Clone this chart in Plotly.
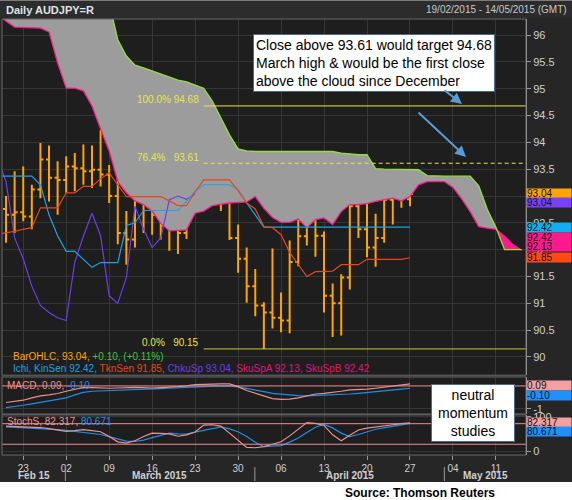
"""AUDJPY daily Ichimoku chart with MACD and stochastic panels (Thomson Reuters style)."""

import numpy as np
import plotly.graph_objects as go

# ---- data -------------------------------------------------------------------
# daily bars, 19 Feb 2015 .. 27 Apr 2015 (index 0 .. 47)
bar_open = [92.76, 92.65, 92.70, 92.62, 93.12, 93.68, 93.34, 93.30, 93.55, 93.52, 93.46, 93.49,
            93.40, 93.00, 92.31, 92.19, 93.46, 92.95, 92.65, 92.45, 93.30, 92.31, 93.28, 94.36,
            94.30, 93.71, 93.27, 92.22, 91.83, 91.32, 90.96, 90.83, 90.73, 90.68, 91.77, 92.25,
            92.68, 92.26, 91.14, 91.00, 91.48, 92.81, 92.38, 92.04, 92.22, 92.93, 93.00, 92.94]
bar_high = [93.00, 93.46, 93.55, 93.21, 93.99, 93.94, 93.65, 93.74, 93.80, 93.96, 93.94, 94.23,
            93.58, 93.40, 92.72, 93.58, 93.62, 93.04, 93.00, 93.88, 93.45, 93.40, 94.59, 94.68,
            94.30, 93.83, 93.37, 92.47, 92.04, 91.64, 91.02, 92.02, 91.20, 92.17, 92.59, 92.87,
            93.06, 92.34, 91.37, 91.54, 93.03, 93.05, 93.24, 92.67, 93.21, 93.18, 93.29, 93.18]
bar_low = [92.13, 92.31, 92.53, 92.38, 92.96, 92.90, 92.65, 93.06, 93.09, 93.21, 93.15, 93.18,
           92.87, 92.10, 91.72, 92.04, 92.31, 92.28, 92.19, 91.98, 91.92, 92.20, 93.10, 93.80,
           93.52, 92.72, 92.18, 91.57, 91.01, 90.76, 90.15, 90.53, 90.46, 90.44, 91.69, 92.08,
           91.87, 90.83, 90.37, 90.40, 91.26, 92.22, 91.86, 91.68, 92.13, 92.47, 92.78, 92.81]
bar_close = [92.65, 92.70, 92.62, 93.12, 93.68, 93.34, 93.30, 93.55, 93.52, 93.46, 93.49, 93.40,
             93.00, 92.31, 92.19, 93.46, 92.95, 92.65, 92.45, 93.30, 92.31, 93.28, 94.36, 94.30,
             93.71, 93.27, 92.22, 91.83, 91.32, 90.96, 90.83, 90.73, 90.68, 91.77, 92.25, 92.68,
             92.26, 91.14, 91.00, 91.48, 92.81, 92.38, 92.04, 92.22, 92.93, 93.00, 92.94, 93.04]

# Ichimoku lines, index -1 .. 47
tenkan = [92.29, 92.31, 92.34, 92.38, 92.41, 92.78, 92.78, 92.78, 93.06, 93.06, 93.18, 93.18,
          93.32, 93.43, 93.21, 92.99, 92.99, 92.99, 92.99, 92.99, 92.91, 92.82, 92.82, 93.08,
          93.30, 93.30, 93.30, 93.30, 93.10, 92.87, 92.76, 92.43, 92.41, 92.28, 91.95, 91.72,
          91.50, 91.59, 91.60, 91.60, 91.72, 91.72, 91.72, 91.82, 91.82, 91.82, 91.82, 91.82, 91.85]
kijun = [93.37, 93.37, 93.37, 93.37, 93.37, 93.21, 92.65, 92.26, 91.97, 91.97, 91.82, 91.67,
         91.76, 91.76, 91.76, 92.45, 92.50, 92.73, 92.73, 92.73, 92.73, 92.73, 92.90, 93.09,
         93.21, 93.21, 93.21, 93.21, 93.12, 92.87, 92.65, 92.42, 92.42, 92.42, 92.42, 92.42,
         92.42, 92.42, 92.42, 92.42, 92.42, 92.42, 92.42, 92.42, 92.42, 92.42, 92.42, 92.42, 92.42]
# cloud (senkou spans, already shifted forward), index -1 .. 60
span_a = [96.40, 96.26, 96.15, 96.14, 96.13, 96.13, 96.06, 95.48, 95.01, 95.01, 94.96, 94.68,
          94.25, 93.84, 93.27, 93.06, 92.91, 92.84, 92.72, 92.49, 92.35, 92.36, 92.37, 92.68,
          92.72, 92.82, 92.85, 92.87, 92.88, 92.89, 92.99, 92.77, 92.60, 92.51, 92.51, 92.57,
          92.41, 92.56, 92.59, 92.47, 92.71, 92.84, 92.84, 92.86, 92.90, 92.93, 92.96, 92.91,
          92.99, 93.21, 93.27, 93.27, 93.27, 93.16, 92.95, 92.71, 92.43, 92.40, 92.38, 92.25,
          92.09, 91.99]
span_b = [96.90, 96.90, 96.90, 96.90, 96.90, 96.90, 96.90, 96.90, 96.90, 96.90, 96.90, 96.90,
          96.90, 96.61, 95.91, 95.61, 95.44, 95.39, 95.33, 95.28, 95.22, 95.16, 95.13, 95.07,
          95.01, 94.77, 94.44, 94.14, 93.88, 93.84, 93.83, 93.83, 93.83, 93.83, 93.83, 93.83,
          93.83, 93.83, 93.83, 93.83, 93.80, 93.78, 93.77, 93.77, 93.51, 93.50, 93.50, 93.50,
          93.50, 93.49, 93.38, 93.37, 93.37, 93.37, 93.37, 93.37, 93.19, 92.75, 92.42, 92.00,
          92.00, 92.00]

macd = [-0.72, -0.68, -0.62, -0.52, -0.43, -0.39, -0.33, -0.23, -0.14, -0.06, -0.07, -0.10,
        -0.10, -0.09, -0.07, -0.06, -0.07, -0.09, -0.07, -0.06, -0.03, 0.00, 0.06, 0.07,
        0.09, 0.09, 0.09, -0.03, -0.20, -0.32, -0.46, -0.55, -0.58, -0.57, -0.52, -0.42,
        -0.35, -0.32, -0.29, -0.23, -0.17, -0.16, -0.14, -0.10, -0.06, -0.01, 0.03, 0.09]
macd_signal = [-0.94, -0.90, -0.84, -0.78, -0.72, -0.67, -0.59, -0.52, -0.39, -0.28, -0.23, -0.22,
               -0.20, -0.19, -0.17, -0.16, -0.14, -0.13, -0.12, -0.10, -0.09, -0.07, -0.04, -0.03,
               -0.01, 0.00, 0.00, -0.04, -0.10, -0.17, -0.25, -0.32, -0.36, -0.39, -0.42, -0.43,
               -0.42, -0.41, -0.39, -0.38, -0.35, -0.32, -0.29, -0.25, -0.20, -0.17, -0.14, -0.10]
stoch_k = [72.9, 71.9, 71.9, 70.8, 68.8, 65.8, 61.7, 57.6, 59.7, 62.7, 59.7, 56.6,
           42.4, 27.1, 23.1, 30.2, 42.4, 52.5, 51.5, 50.5, 43.4, 47.5, 55.6, 75.9,
           76.9, 72.9, 52.5, 32.2, 10.8, 9.8, 12.9, 20.0, 27.1, 44.4, 64.7, 83.1,
           81.0, 74.9, 47.5, 30.2, 46.4, 61.7, 66.8, 70.8, 73.9, 76.9, 80.0, 82.3]
stoch_d = [70.8, 69.8, 68.8, 67.8, 66.8, 64.7, 62.7, 60.7, 57.6, 55.6, 52.5, 48.5,
           42.4, 35.2, 29.2, 28.1, 32.2, 39.3, 46.4, 52.5, 50.5, 49.5, 55.6, 60.7,
           66.8, 70.8, 64.7, 56.6, 42.4, 26.1, 12.9, 13.9, 15.9, 26.1, 38.3, 54.6,
           69.8, 77.9, 67.8, 52.5, 42.4, 48.5, 56.6, 63.7, 67.8, 71.9, 75.9, 80.7]

week_labels = ["23", "02", "09", "16", "23", "30", "06", "13", "20", "27", "04", "11"]
month_labels = ["Feb 15", "March 2015", "April 2015", "May 2015"]

# ---- geometry / style ---------------------------------------------------------
W, H = 572, 500
ML, MR, MT, MB = 2, 46, 19, 45
FONT = "Liberation Sans, Arial, sans-serif"

ORANGE = "#ffa500"
CYAN = "#1aa3e8"
TKN = "#e8451e"
PURPLE = "#6b3fe8"
PINK = "#ff1a8c"
GREEN = "#93e03c"
CLOUD = "#9c9c9c"
SALMON = "#ee9090"
BLUE = "#1e8fe8"
FIB = "#e6e64a"
GRID = "#363636"


def px(x):
    return (x - ML) / (W - ML - MR)


def py(y):
    return (H - MB - y) / (H - MT - MB)


bar_x = np.arange(len(bar_close))
line_x = np.arange(-1, len(bar_close))
cloud_x = np.arange(-1, len(span_a) - 1)
chikou_x = bar_x - 25


def split_at_crossings(x, a, b):
    """insert the crossing points of a and b so the two cloud colours meet exactly"""
    xs, ys_a, ys_b = [x[0]], [a[0]], [b[0]]
    for k in range(1, len(x)):
        d0, d1 = a[k - 1] - b[k - 1], a[k] - b[k]
        if d0 * d1 < 0:
            t = d0 / (d0 - d1)
            yc = a[k - 1] + t * (a[k] - a[k - 1])
            xs.append(x[k - 1] + t * (x[k] - x[k - 1]))
            ys_a.append(yc)
            ys_b.append(yc)
        xs.append(x[k])
        ys_a.append(a[k])
        ys_b.append(b[k])
    return np.array(xs), np.array(ys_a), np.array(ys_b)


cx, ca, cb = split_at_crossings(cloud_x, span_a, span_b)

fig = go.Figure()
line_opts = dict(mode="lines", hoverinfo="skip")

# cloud fills
fig.add_trace(go.Scatter(x=cx, y=cb, line=dict(width=0, color=GREEN), **line_opts))
fig.add_trace(go.Scatter(x=cx, y=ca, fill="tonexty", fillcolor=CLOUD,
                         line=dict(width=0, color=PINK), **line_opts))
fig.add_trace(go.Scatter(x=cx, y=cb, line=dict(width=0, color=GREEN), **line_opts))
fig.add_trace(go.Scatter(x=cx, y=np.maximum(ca, cb), fill="tonexty", fillcolor=PINK,
                         line=dict(width=0, color=PINK), **line_opts))
# cloud edges
fig.add_trace(go.Scatter(x=cx, y=ca, line=dict(width=1.3, color=PINK), **line_opts))
fig.add_trace(go.Scatter(x=cx, y=cb, line=dict(width=1.3, color=GREEN), **line_opts))

# ichimoku lines
fig.add_trace(go.Scatter(x=chikou_x, y=bar_close, line=dict(width=1.2, color=PURPLE), **line_opts))
fig.add_trace(go.Scatter(x=line_x, y=kijun, line=dict(width=1.2, color=CYAN), **line_opts))
fig.add_trace(go.Scatter(x=line_x, y=tenkan, line=dict(width=1.2, color=TKN), **line_opts))

# price bars
fig.add_trace(go.Ohlc(x=bar_x, open=bar_open, high=bar_high, low=bar_low, close=bar_close,
                      increasing=dict(line=dict(color=ORANGE, width=2)),
                      decreasing=dict(line=dict(color=ORANGE, width=2)),
                      tickwidth=0.35, hoverinfo="skip"))

# MACD panel
fig.add_trace(go.Scatter(x=bar_x, y=macd_signal, yaxis="y2", line=dict(width=1.2, color=BLUE), **line_opts))
fig.add_trace(go.Scatter(x=bar_x, y=macd, yaxis="y2", line=dict(width=1.2, color=SALMON), **line_opts))

# stochastic panel
fig.add_trace(go.Scatter(x=bar_x, y=stoch_d, yaxis="y3", line=dict(width=1.2, color=BLUE), **line_opts))
fig.add_trace(go.Scatter(x=bar_x, y=stoch_k, yaxis="y3", line=dict(width=1.2, color=SALMON), **line_opts))

# ---- fibonacci retracement ---------------------------------------------------
hi_i = int(np.argmax(bar_high))
fib_hi, fib_lo = max(bar_high), min(bar_low)
fib_mid = fib_lo + 0.764 * (fib_hi - fib_lo)
x_end = 60.5
shapes = [
    dict(type="line", xref="x", yref="y", x0=hi_i, x1=x_end, y0=fib_hi, y1=fib_hi,
         line=dict(color=FIB, width=1)),
    dict(type="line", xref="x", yref="y", x0=hi_i, x1=x_end, y0=fib_mid, y1=fib_mid,
         line=dict(color=FIB, width=1, dash="4px,3px")),
    dict(type="line", xref="x", yref="y", x0=hi_i, x1=x_end, y0=fib_lo, y1=fib_lo,
         line=dict(color="#c8c83c", width=1)),
    # indicator reference lines
    dict(type="line", xref="paper", yref="y2", x0=0, x1=1, y0=0, y1=0, line=dict(color=SALMON, width=1)),
    dict(type="line", xref="paper", yref="y3", x0=0, x1=1, y0=80, y1=80, line=dict(color=SALMON, width=1)),
    dict(type="line", xref="paper", yref="y3", x0=0, x1=1, y0=20, y1=20, line=dict(color=SALMON, width=1)),
]

# panel borders, title bar, white footer
main_dom, macd_dom, stoch_dom = [0.183, 1.0], [0.094, 0.179], [0.0, 0.092]
for dom in (main_dom, macd_dom, stoch_dom):
    shapes.append(dict(type="rect", xref="paper", yref="paper", x0=0, x1=1, y0=dom[0], y1=dom[1],
                       line=dict(color="#6a6a6a", width=1), layer="above"))
shapes += [
    dict(type="rect", xref="paper", yref="paper", x0=px(0), x1=px(W), y0=py(18), y1=py(0),
         fillcolor="#2c2c2c", line=dict(width=0), layer="below"),
    dict(type="line", xref="paper", yref="paper", x0=px(0), x1=px(W), y0=py(0.5), y1=py(0.5),
         line=dict(color="#7c7c7c", width=1)),
    dict(type="rect", xref="paper", yref="paper", x0=px(0), x1=px(W), y0=py(H + 2), y1=py(482),
         fillcolor="white", line=dict(width=0), layer="below"),
]
# month separators on the date axis
for sep in (6.9, 28.95, 51.0):
    shapes.append(dict(type="line", xref="x", yref="paper", x0=sep, x1=sep, y0=py(467), y1=py(481),
                       line=dict(color="#9a9a9a", width=1)))

# ---- annotations -------------------------------------------------------------
ann = []


def text(x, y, s, size=10, color="#c8c8c8", xanchor="left", **kw):
    ann.append(dict(x=x, y=y, xref=kw.pop("xref", "paper"), yref=kw.pop("yref", "paper"), text=s,
                    showarrow=False, xanchor=xanchor, yanchor=kw.pop("yanchor", "middle"),
                    font=dict(family=FONT, size=size, color=color), **kw))


text(px(4), py(10), "<b>Daily AUDJPY=R</b>", size=11, color="#dfe4ea")
text(px(569), py(10), "19/02/2015 - 14/05/2015 (GMT)", size=10, xanchor="right")

text(px(201), fib_hi, f"100.0% {fib_hi:.2f}", size=10, color=FIB, xanchor="right", yref="y", yshift=6)
text(px(201), fib_mid, f"76.4%&nbsp;&nbsp;&nbsp;{fib_mid:.2f}", size=10, color=FIB, xanchor="right",
     yref="y", yshift=6)
text(px(201), fib_lo, f"0.0%&nbsp;&nbsp;&nbsp;{fib_lo:.2f}", size=10, color=FIB, xanchor="right",
     yref="y", yshift=6)

chg = bar_close[-1] - bar_close[-2]
text(px(11), py(356),
     f"<span style='color:{ORANGE}'>BarOHLC, {bar_close[-1]:.2f}, </span>"
     f"<span style='color:#3cc83c'>{chg:+.2f}, ({chg / bar_close[-2] * 100:+.2f}%)</span>")
text(px(11), py(368),
     f"<span style='color:{CYAN}'>Ichi, KinSen {kijun[-1]:.2f}, </span>"
     f"<span style='color:{TKN}'>TknSen {tenkan[-1]:.2f}, </span>"
     f"<span style='color:{PURPLE}'>ChkuSp {bar_close[-1]:.2f}, </span>"
     f"<span style='color:#e0157d'>SkuSpA 92.13, SkuSpB 92.42</span>")
text(px(5), py(385),
     f"<span style='color:{SALMON}'>MACD, {macd[-1]:.2f}, </span>"
     f"<span style='color:{BLUE}'>{macd_signal[-1]:.2f}</span>")
text(px(5), py(421),
     f"<span style='color:{SALMON}'>StochS, 82.317, </span>"
     f"<span style='color:{BLUE}'>80.671</span>")

# right-hand value boxes
box_font = dict(family=FONT, size=10, color="#111111")
for val, ref, shift, bg in [
    (bar_close[-1], "y", 0, ORANGE), (bar_close[-1], "y", -9, "#7a40ff"),
    (kijun[-1], "y", 0, "#10b0f0"), (92.42, "y", -10, PINK), (92.13, "y", -4, PINK),
    (tenkan[-1], "y", 0, "#ff4a14"),
]:
    ann.append(dict(x=1.0, y=val, xref="paper", yref=ref, yshift=shift, text=f"{val:.2f}",
                    showarrow=False, xanchor="left", yanchor="middle", align="left",
                    width=44, height=9, bgcolor=bg, borderpad=0, font=box_font))
for val, ref, shift, bg, fmt in [
    (macd[-1], "y2", -2, "#f4a0a0", "{:.2f}"), (macd_signal[-1], "y2", -7, "#1e90ff", "{:.2f}"),
    (82.317, "y3", 0, "#f4a0a0", "{:.3f}"), (80.671, "y3", -8, "#1e90ff", "{:.3f}"),
]:
    ann.append(dict(x=1.0, y=val, xref="paper", yref=ref, yshift=shift, text=fmt.format(val),
                    showarrow=False, xanchor="left", yanchor="middle", align="left",
                    width=44, height=9, bgcolor=bg, borderpad=0, font=box_font))

# call-out boxes
ann.append(dict(x=px(253), y=py(34), xref="paper", yref="paper", xanchor="left", yanchor="top",
                text="Close above 93.61 would target 94.68<br>March high & would be the first close"
                     "<br>above the cloud since December",
                showarrow=False, align="left", bgcolor="white", bordercolor="#4a6a8a",
                borderwidth=1, borderpad=2, font=dict(family=FONT, size=14, color="black")))
ann.append(dict(x=px(473), y=py(413), xref="paper", yref="paper", xanchor="center", yanchor="middle",
                text="neutral<br>momentum<br>studies", showarrow=False, align="center",
                width=78, bgcolor="white", bordercolor="#4a6a8a", borderwidth=1, borderpad=2,
                font=dict(family=FONT, size=14, color="black")))
for hx, hy, ax, ay in [(462, 104, -19, -15), (466, 157, -49, -46)]:
    ann.append(dict(x=px(hx), y=py(hy), xref="paper", yref="paper", text="", showarrow=True,
                    ax=ax, ay=ay, arrowhead=2, arrowsize=1.1, arrowwidth=2, arrowcolor="#5b9bd5"))

# month names under the week ticks
for label, xc in zip(month_labels, (3.2, 17.9, 40.0, 55.75)):
    text(xc, py(475), f"<b>{label}</b>", size=10, color="#d0d0d0", xanchor="center", xref="x")

text(px(420), py(493), "<b>Source: Thomson Reuters</b>", size=12, color="black", xanchor="center")

# ---- axes --------------------------------------------------------------------
yaxis_common = dict(side="right", anchor="x", showgrid=True, gridcolor=GRID, zeroline=False,
                    ticks="outside", ticklen=4, tickcolor="#9a9a9a", showline=True,
                    linecolor="#b4b4b4", tickfont=dict(family=FONT, size=11, color="#cfcfcf"))
price_ticks = np.arange(90, 96.01, 0.5)

fig.update_layout(
    width=W, height=H, margin=dict(l=ML, r=MR, t=MT, b=MB),
    paper_bgcolor="#262626", plot_bgcolor="#1e1e1e", showlegend=False,
    font=dict(family=FONT, size=10, color="#c8c8c8"),
    xaxis=dict(domain=[0, 1], range=[-0.47, x_end], anchor="y3", tickmode="array",
               tickvals=list(range(2, 58, 5)), ticktext=week_labels, showgrid=True, gridcolor=GRID,
               zeroline=False, ticks="outside", ticklen=4, tickcolor="#9a9a9a",
               tickfont=dict(family=FONT, size=10, color="#d0d0d0"), rangeslider=dict(visible=False)),
    yaxis=dict(domain=main_dom, range=[89.66, 96.30], tickvals=price_ticks,
               ticktext=[f"{v:g}" for v in price_ticks], **yaxis_common),
    yaxis2=dict(domain=macd_dom, range=[-1.22, 0.39], tickvals=[-1], ticktext=["-1"], **yaxis_common),
    yaxis3=dict(domain=stoch_dom, range=[-11.4, 105.7], tickvals=[0, 100], ticktext=["0", "100"],
                **yaxis_common),
    shapes=shapes, annotations=ann,
)

# the page's default body margin would push the 572x500 figure off the window
fig.write_html("out.html", config={"displayModeBar": False},
               post_script="document.body.style.margin='0';document.body.style.overflow='hidden';")
